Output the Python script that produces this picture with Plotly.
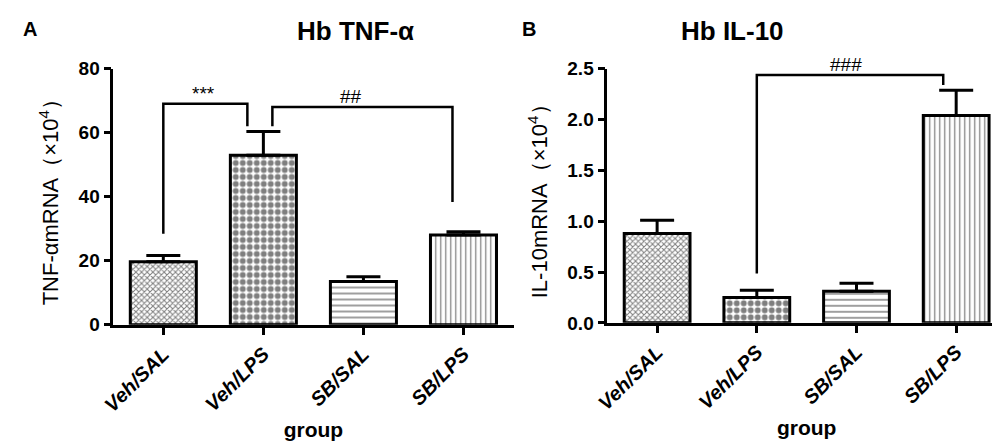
import plotly.graph_objects as go
from plotly.subplots import make_subplots

groups = ['Veh/SAL', 'Veh/LPS', 'SB/SAL', 'SB/LPS']
tnf_mean = [19.7, 52.9, 13.5, 28.0]
tnf_err = [1.9, 7.4, 1.5, 1.0]
il10_mean = [0.88, 0.25, 0.31, 2.04]
il10_err = [0.13, 0.07, 0.08, 0.25]
patterns = [dict(shape='x', size=4, solidity=0.45, fgcolor='black', bgcolor='white'),
            dict(shape='.', size=7, solidity=0.55, fgcolor='black', bgcolor='white'),
            dict(shape='-', size=6, solidity=0.25, fgcolor='black', bgcolor='white'),
            dict(shape='|', size=5, solidity=0.25, fgcolor='black', bgcolor='white')]

fig = make_subplots(rows=1, cols=2)

for col, (vals, errs) in enumerate([(tnf_mean, tnf_err), (il10_mean, il10_err)], start=1):
    for i, g in enumerate(groups):
        fig.add_trace(go.Bar(
            x=[g], y=[vals[i]],
            marker=dict(color='white', line=dict(color='black', width=3), pattern=patterns[i]),
            error_y=dict(type='data', array=[errs[i]], arrayminus=[0], symmetric=False,
                         color='black', thickness=3, width=17),
            width=0.66, showlegend=False), row=1, col=col)

ax = dict(showline=True, linecolor='black', linewidth=2.5, ticks='outside', tickwidth=2.5,
          ticklen=7, tickcolor='black', showgrid=False, zeroline=False)
FAM = 'Liberation Sans, Arial'
xfont = dict(family=FAM, size=20, color='black', weight='bold', style='italic')
yfont = dict(family=FAM, size=19, color='black', weight='bold')
ttl = dict(family=FAM, size=21, color='black', weight='bold')
ytl = dict(family=FAM, size=22, color='black')

fig.update_layout(
    width=1000, height=444, margin=dict(l=0, r=0, t=0, b=0),
    plot_bgcolor='white', paper_bgcolor='white',
    xaxis=dict(domain=[0.0935, 0.499], tickangle=-45, tickfont=xfont,
               title=dict(text='group', font=ttl, standoff=8), **ax),
    xaxis2=dict(domain=[0.594, 0.998], tickangle=-45, tickfont=xfont,
                title=dict(text='group', font=ttl, standoff=8), **ax),
    yaxis=dict(domain=[0.2748, 0.8806], range=[0, 80], tickvals=[0, 20, 40, 60, 80],
               tickfont=yfont,
               title=dict(text='TNF-αmRNA（×10<sup>4</sup>）', font=ytl, standoff=14), **ax),
    yaxis2=dict(domain=[0.2793, 0.8799], range=[0, 2.5], tickvals=[0, 0.5, 1, 1.5, 2, 2.5],
                tickformat='.1f', tickfont=yfont,
                title=dict(text='IL-10mRNA（×10<sup>4</sup>）', font=ytl, standoff=14), **ax),
)

# significance brackets
line = dict(color='black', width=2.5)
fig.add_shape(type='path', path='M 0,28.4 L 0,69 L 0.84,69 L 0.84,62',
              xref='x', yref='y', line=line)
fig.add_shape(type='path', path='M 1.09,62 L 1.09,68 L 2.89,68 L 2.89,38.3',
              xref='x', yref='y', line=line)
fig.add_shape(type='path', path='M 1,0.485 L 1,2.44 L 2.87,2.44 L 2.87,2.34',
              xref='x2', yref='y2', line=line)

sig = dict(family=FAM, size=19, color='black')
fig.add_annotation(text='***', x=0.4, y=69, xref='x', yref='y', yanchor='bottom',
                   yshift=-2, showarrow=False, font=sig)
fig.add_annotation(text='##', x=1.88, y=68, xref='x', yref='y', yanchor='bottom',
                   yshift=-2, showarrow=False, font=sig)
fig.add_annotation(text='###', x=1.89, y=2.44, xref='x2', yref='y2', yanchor='bottom',
                   yshift=-2, showarrow=False, font=sig)

head = dict(family=FAM, size=26, color='black', weight='bold')
fig.add_annotation(text='Hb TNF-α', x=0.278, y=0.97, xref='paper', yref='paper',
                   yanchor='middle', showarrow=False, font=head)
fig.add_annotation(text='Hb IL-10', x=0.775, y=0.97, xref='paper', yref='paper',
                   yanchor='middle', showarrow=False, font=head)
lab = dict(family=FAM, size=20, color='black', weight='bold')
fig.add_annotation(text='A', x=0.0, y=0.975, xref='paper', yref='paper', xanchor='left',
                   yanchor='middle', showarrow=False, font=lab)
fig.add_annotation(text='B', x=0.506, y=0.975, xref='paper', yref='paper', xanchor='left',
                   yanchor='middle', showarrow=False, font=lab)

fig.write_html("out.html")
